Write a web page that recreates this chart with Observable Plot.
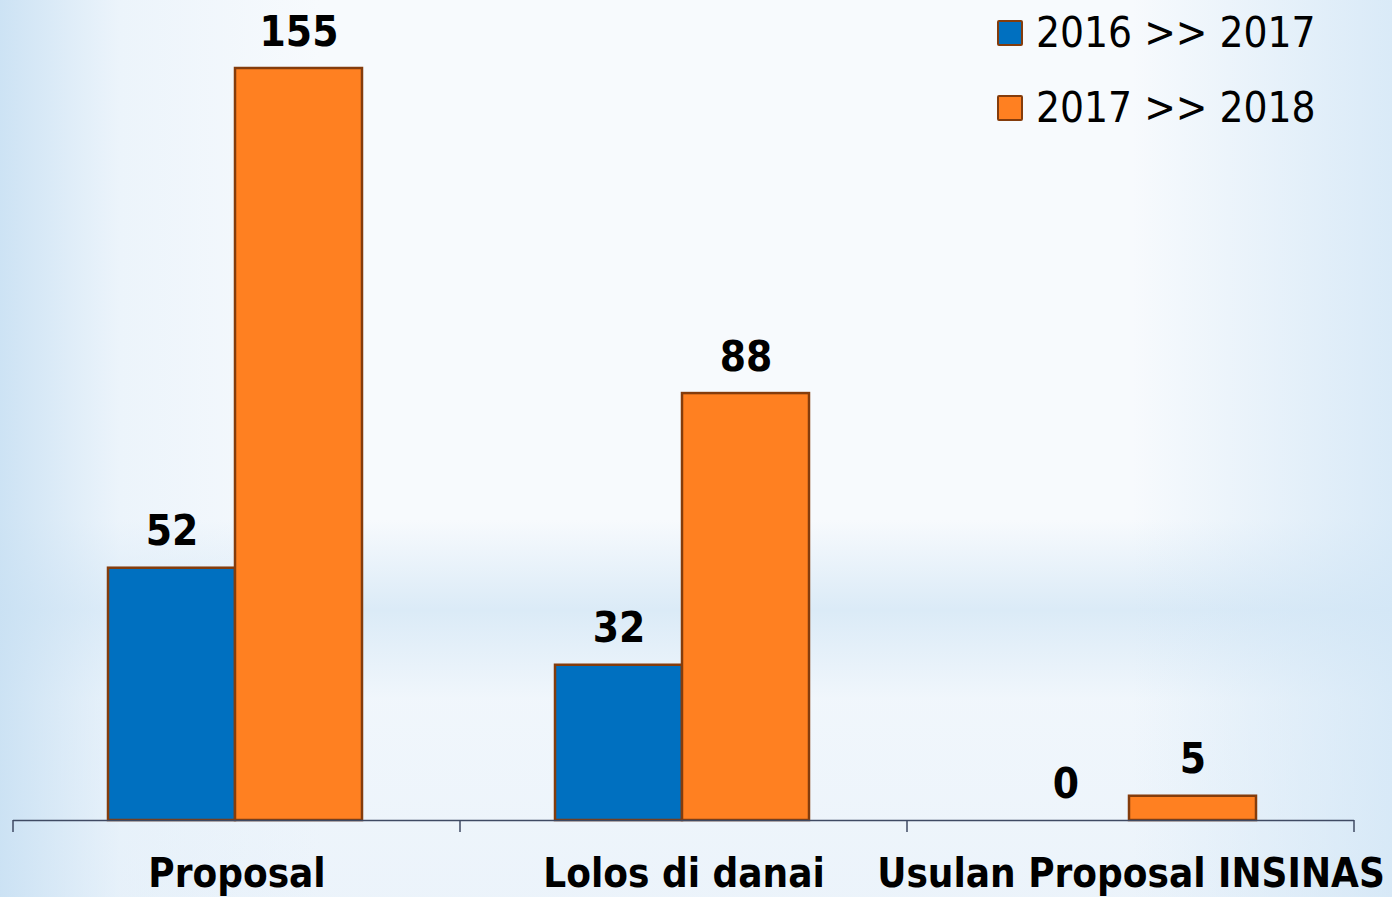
<!DOCTYPE html>
<html><head><meta charset="utf-8">
<script src="https://cdn.jsdelivr.net/npm/d3@7"></script>
<script src="https://cdn.jsdelivr.net/npm/@observablehq/plot@0.6"></script>
<style>
html,body{margin:0;padding:0;background:#fff;}
#wrap{position:relative;width:1392px;height:897px;overflow:hidden;
 background:
  linear-gradient(to right, rgba(200,224,243,0.9) 0px, rgba(225,238,249,0.5) 120px, rgba(255,255,255,0) 320px),
  linear-gradient(to left, rgba(210,230,246,0.8) 0px, rgba(255,255,255,0) 260px),
  linear-gradient(to bottom, rgba(255,255,255,0) 0px, rgba(255,255,255,0) 520px, rgba(214,232,246,0.85) 610px, rgba(236,244,251,0.6) 700px, rgba(228,239,249,0.6) 897px),
  #f7fafd;}
#chart{position:absolute;left:0;top:0;}
#legend{position:absolute;left:997px;top:-5px;font-family:"DejaVu Sans Condensed","DejaVu Sans",sans-serif;font-size:42px;color:#000;}
#legend .row{display:flex;align-items:center;height:75px;}
#legend .sw{width:22px;height:22px;border:2px solid #843C0C;border-radius:2px;margin-right:13px;}
</style></head><body>
<div id="wrap">
 <div id="chart"></div>
 <div id="legend"></div>
</div>
<script>
const categories = ["Proposal", "Lolos di danai", "Usulan Proposal INSINAS"];
const seriesNames = ["2016 >> 2017", "2017 >> 2018"];
const values2016to2017 = [52, 32, 0];
const values2017to2018 = [155, 88, 5];
const seriesColors = ["#0070C0", "#FF8021"];
const borderColor = "#843C0C";
const fontFam = '"DejaVu Sans Condensed","DejaVu Sans",sans-serif';

const data = categories.flatMap((c, i) => [
  {category: c, series: seriesNames[0], value: values2016to2017[i]},
  {category: c, series: seriesNames[1], value: values2017to2018[i]}
]);

const plot = Plot.plot({
  width: 1392, height: 897,
  marginTop: 68, marginBottom: 77, marginLeft: 12, marginRight: 38,
  style: {background: "transparent", overflow: "visible", fontFamily: fontFam, color: "#000"},
  fx: {domain: categories, paddingInner: 0, paddingOuter: 0, label: null},
  x: {domain: seriesNames, paddingInner: 0, paddingOuter: 0.747, align: 0.49, axis: null},
  y: {domain: [0, 155], axis: null},
  color: {domain: seriesNames, range: seriesColors},
  marks: [
    Plot.barY(data.filter(d => d.value > 0), {fx: "category", x: "series", y: "value", fill: "series", stroke: borderColor, strokeWidth: 2.5}),
    Plot.ruleY([0], {stroke: "#3F4A63", strokeWidth: 1.5}),
    Plot.text(data, {fx: "category", x: "series", y: "value", text: d => String(d.value), lineAnchor: "bottom", dy: -23, fontSize: 42, fontWeight: "bold", fill: "#000"}),
    Plot.axisFx({anchor: "bottom", tickSize: 0, tickPadding: 38, fontSize: 40, fontWeight: "bold", label: null, fill: "#000"})
  ]
});
document.getElementById("chart").appendChild(plot);

// category boundary ticks derived from the fx band scale
const fxs = plot.scale("fx");
const ys = plot.scale("y");
const edges = categories.map(c => fxs.apply(c));
edges.push(fxs.apply(categories[categories.length - 1]) + fxs.bandwidth);
const y0 = ys.apply(0);
d3.select(plot).append("g").selectAll("line").data(edges).join("line")
  .attr("x1", d => d).attr("x2", d => d)
  .attr("y1", y0).attr("y2", y0 + 12)
  .attr("stroke", "#3F4A63").attr("stroke-width", 1.5);

// legend
const legend = d3.select("#legend");
seriesNames.forEach((s, i) => {
  const row = legend.append("div").attr("class", "row");
  row.append("div").attr("class", "sw").style("background", seriesColors[i]);
  row.append("span").text(s);
});
</script>
</body></html>
